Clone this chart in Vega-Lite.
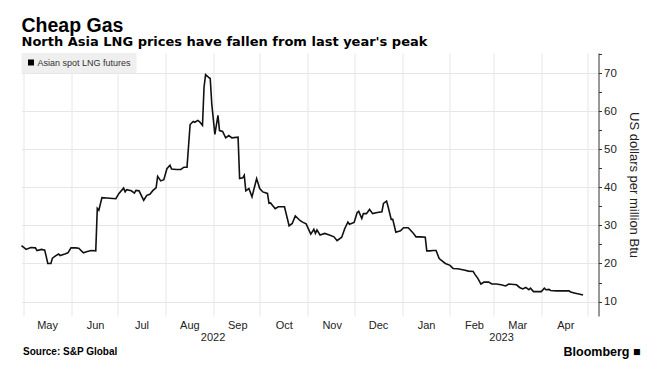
{
  "$schema": "https://vega.github.io/schema/vega-lite/v6.json",
  "width": 577,
  "height": 263,
  "autosize": {"type": "none"},
  "padding": {"left": 21.5, "top": 53, "right": 63.5, "bottom": 69},
  "background": "white",
  "title": {
    "text": "Cheap Gas",
    "subtitle": "North Asia LNG prices have fallen from last year's peak",
    "anchor": "start",
    "frame": "group",
    "font": "Liberation Sans",
    "fontSize": 19.5,
    "fontWeight": "bold",
    "color": "#000000",
    "subtitleFont": "DejaVu Sans",
    "subtitleFontSize": 13,
    "subtitleFontWeight": "bold",
    "subtitleColor": "#000000",
    "subtitlePadding": 0,
    "offset": 3
  },
  "data": {
    "values": [
      {"date": "2022-04-30", "price": 24.7},
      {"date": "2022-05-03", "price": 23.7},
      {"date": "2022-05-06", "price": 24.2},
      {"date": "2022-05-09", "price": 24.1},
      {"date": "2022-05-10", "price": 23.4},
      {"date": "2022-05-13", "price": 23.7},
      {"date": "2022-05-15", "price": 23.5},
      {"date": "2022-05-16", "price": 21.8},
      {"date": "2022-05-17", "price": 20.0},
      {"date": "2022-05-19", "price": 20.0},
      {"date": "2022-05-20", "price": 21.4},
      {"date": "2022-05-22", "price": 22.0},
      {"date": "2022-05-24", "price": 22.5},
      {"date": "2022-05-25", "price": 22.1},
      {"date": "2022-05-28", "price": 22.5},
      {"date": "2022-05-30", "price": 22.8},
      {"date": "2022-06-01", "price": 24.1},
      {"date": "2022-06-04", "price": 24.1},
      {"date": "2022-06-06", "price": 24.0},
      {"date": "2022-06-09", "price": 22.8},
      {"date": "2022-06-11", "price": 23.1},
      {"date": "2022-06-14", "price": 23.4},
      {"date": "2022-06-17", "price": 23.3},
      {"date": "2022-06-18", "price": 34.5},
      {"date": "2022-06-19", "price": 34.0},
      {"date": "2022-06-21", "price": 37.3},
      {"date": "2022-06-24", "price": 37.2},
      {"date": "2022-06-30", "price": 37.0},
      {"date": "2022-07-02", "price": 38.4},
      {"date": "2022-07-05", "price": 39.8},
      {"date": "2022-07-06", "price": 38.8},
      {"date": "2022-07-07", "price": 39.4},
      {"date": "2022-07-10", "price": 39.1},
      {"date": "2022-07-12", "price": 38.5},
      {"date": "2022-07-13", "price": 39.2},
      {"date": "2022-07-15", "price": 39.1},
      {"date": "2022-07-18", "price": 36.6},
      {"date": "2022-07-20", "price": 37.9},
      {"date": "2022-07-22", "price": 38.2},
      {"date": "2022-07-24", "price": 39.2},
      {"date": "2022-07-26", "price": 39.9},
      {"date": "2022-07-27", "price": 42.9},
      {"date": "2022-07-29", "price": 41.7},
      {"date": "2022-07-31", "price": 42.0},
      {"date": "2022-08-02", "price": 44.9},
      {"date": "2022-08-04", "price": 45.8},
      {"date": "2022-08-05", "price": 44.8},
      {"date": "2022-08-08", "price": 44.7},
      {"date": "2022-08-11", "price": 44.7},
      {"date": "2022-08-13", "price": 45.3},
      {"date": "2022-08-15", "price": 45.3},
      {"date": "2022-08-17", "price": 56.5},
      {"date": "2022-08-19", "price": 57.3},
      {"date": "2022-08-20", "price": 57.1},
      {"date": "2022-08-22", "price": 57.6},
      {"date": "2022-08-23", "price": 57.3},
      {"date": "2022-08-25", "price": 56.3},
      {"date": "2022-08-26", "price": 66.3},
      {"date": "2022-08-27", "price": 69.6},
      {"date": "2022-08-29", "price": 68.9},
      {"date": "2022-08-30", "price": 68.6},
      {"date": "2022-08-31", "price": 61.9},
      {"date": "2022-09-02", "price": 53.9},
      {"date": "2022-09-04", "price": 58.9},
      {"date": "2022-09-05", "price": 54.9},
      {"date": "2022-09-07", "price": 54.7},
      {"date": "2022-09-09", "price": 53.0},
      {"date": "2022-09-11", "price": 53.6},
      {"date": "2022-09-13", "price": 53.0},
      {"date": "2022-09-17", "price": 53.2},
      {"date": "2022-09-18", "price": 42.3},
      {"date": "2022-09-20", "price": 42.5},
      {"date": "2022-09-21", "price": 43.2},
      {"date": "2022-09-22", "price": 39.1},
      {"date": "2022-09-24", "price": 39.7},
      {"date": "2022-09-26", "price": 37.5},
      {"date": "2022-09-29", "price": 42.3},
      {"date": "2022-10-01", "price": 39.7},
      {"date": "2022-10-03", "price": 38.8},
      {"date": "2022-10-06", "price": 38.4},
      {"date": "2022-10-07", "price": 35.8},
      {"date": "2022-10-08", "price": 35.9},
      {"date": "2022-10-11", "price": 34.4},
      {"date": "2022-10-13", "price": 34.9},
      {"date": "2022-10-17", "price": 34.9},
      {"date": "2022-10-20", "price": 29.9},
      {"date": "2022-10-22", "price": 30.5},
      {"date": "2022-10-24", "price": 32.5},
      {"date": "2022-10-27", "price": 31.3},
      {"date": "2022-10-29", "price": 30.8},
      {"date": "2022-10-31", "price": 30.4},
      {"date": "2022-11-03", "price": 27.7},
      {"date": "2022-11-05", "price": 29.0},
      {"date": "2022-11-06", "price": 27.9},
      {"date": "2022-11-07", "price": 28.8},
      {"date": "2022-11-09", "price": 27.5},
      {"date": "2022-11-12", "price": 27.9},
      {"date": "2022-11-15", "price": 27.5},
      {"date": "2022-11-18", "price": 27.0},
      {"date": "2022-11-20", "price": 26.0},
      {"date": "2022-11-23", "price": 26.9},
      {"date": "2022-11-25", "price": 29.2},
      {"date": "2022-11-27", "price": 30.9},
      {"date": "2022-11-28", "price": 30.3},
      {"date": "2022-12-01", "price": 30.8},
      {"date": "2022-12-03", "price": 33.4},
      {"date": "2022-12-04", "price": 33.7},
      {"date": "2022-12-06", "price": 31.8},
      {"date": "2022-12-07", "price": 33.1},
      {"date": "2022-12-09", "price": 33.1},
      {"date": "2022-12-11", "price": 34.2},
      {"date": "2022-12-13", "price": 33.1},
      {"date": "2022-12-16", "price": 33.4},
      {"date": "2022-12-19", "price": 33.6},
      {"date": "2022-12-20", "price": 35.8},
      {"date": "2022-12-22", "price": 36.4},
      {"date": "2022-12-23", "price": 34.9},
      {"date": "2022-12-25", "price": 31.6},
      {"date": "2022-12-26", "price": 31.6},
      {"date": "2022-12-28", "price": 28.2},
      {"date": "2022-12-31", "price": 28.6},
      {"date": "2023-01-02", "price": 29.4},
      {"date": "2023-01-05", "price": 29.4},
      {"date": "2023-01-08", "price": 28.1},
      {"date": "2023-01-10", "price": 27.0},
      {"date": "2023-01-13", "price": 27.0},
      {"date": "2023-01-16", "price": 26.9},
      {"date": "2023-01-17", "price": 23.3},
      {"date": "2023-01-19", "price": 23.3},
      {"date": "2023-01-21", "price": 23.4},
      {"date": "2023-01-23", "price": 23.4},
      {"date": "2023-01-25", "price": 21.3},
      {"date": "2023-01-29", "price": 20.0},
      {"date": "2023-02-01", "price": 19.5},
      {"date": "2023-02-03", "price": 18.7},
      {"date": "2023-02-06", "price": 18.6},
      {"date": "2023-02-10", "price": 18.3},
      {"date": "2023-02-13", "price": 18.0},
      {"date": "2023-02-16", "price": 17.9},
      {"date": "2023-02-17", "price": 17.2},
      {"date": "2023-02-19", "price": 16.1},
      {"date": "2023-02-21", "price": 14.6},
      {"date": "2023-02-23", "price": 15.1},
      {"date": "2023-02-26", "price": 15.1},
      {"date": "2023-02-28", "price": 14.6},
      {"date": "2023-03-03", "price": 14.6},
      {"date": "2023-03-06", "price": 14.4},
      {"date": "2023-03-09", "price": 14.1},
      {"date": "2023-03-11", "price": 14.6},
      {"date": "2023-03-16", "price": 14.4},
      {"date": "2023-03-18", "price": 13.7},
      {"date": "2023-03-20", "price": 13.3},
      {"date": "2023-03-22", "price": 13.7},
      {"date": "2023-03-24", "price": 13.1},
      {"date": "2023-03-25", "price": 13.5},
      {"date": "2023-03-27", "price": 12.6},
      {"date": "2023-03-29", "price": 12.6},
      {"date": "2023-04-01", "price": 12.6},
      {"date": "2023-04-03", "price": 13.5},
      {"date": "2023-04-04", "price": 13.1},
      {"date": "2023-04-06", "price": 13.2},
      {"date": "2023-04-07", "price": 12.9},
      {"date": "2023-04-11", "price": 12.8},
      {"date": "2023-04-15", "price": 12.8},
      {"date": "2023-04-19", "price": 12.8},
      {"date": "2023-04-20", "price": 12.5},
      {"date": "2023-04-23", "price": 12.2},
      {"date": "2023-04-26", "price": 11.9},
      {"date": "2023-04-28", "price": 11.7}
    ]
  },
  "layer": [
    {
      "mark": {"type": "line", "strokeWidth": 1.6, "interpolate": "linear"},
      "encoding": {
        "x": {
          "field": "date",
          "type": "temporal",
          "scale": {
            "type": "utc",
            "domain": [
              {"year": 2022, "month": 4, "date": 30, "utc": true},
              {"year": 2023, "month": 5, "date": 8, "utc": true}
            ]
          },
          "axis": {
            "orient": "bottom",
            "values": [
              {"year": 2022, "month": 5, "date": 1, "utc": true},
              {"year": 2022, "month": 6, "date": 1, "utc": true},
              {"year": 2022, "month": 7, "date": 1, "utc": true},
              {"year": 2022, "month": 8, "date": 1, "utc": true},
              {"year": 2022, "month": 9, "date": 1, "utc": true},
              {"year": 2022, "month": 10, "date": 1, "utc": true},
              {"year": 2022, "month": 11, "date": 1, "utc": true},
              {"year": 2022, "month": 12, "date": 1, "utc": true},
              {"year": 2023, "month": 1, "date": 1, "utc": true},
              {"year": 2023, "month": 2, "date": 1, "utc": true},
              {"year": 2023, "month": 3, "date": 1, "utc": true},
              {"year": 2023, "month": 4, "date": 1, "utc": true},
              {"year": 2023, "month": 5, "date": 1, "utc": true}
            ],
            "grid": true,
            "gridColor": "#e6e6e6",
            "gridWidth": 1,
            "ticks": false,
            "tickSize": 0,
            "domain": false,
            "labelExpr": "utcyear(datum.value) == 2023 && utcmonth(datum.value) == 4 ? '' : utcFormat(datum.value, '%b')",
            "labelOffset": 24,
            "labelPadding": 3,
            "labelBaseline": "top",
            "labelAlign": "center",
            "labelFont": "Liberation Sans",
            "labelFontSize": 11,
            "labelColor": "#222222",
            "labelFlush": false,
            "labelOverlap": false,
            "labelBound": false,
            "title": "Source: S&P Global",
            "titleX": 1,
            "titleY": 38,
            "titleAlign": "left",
            "titleAnchor": "start",
            "titleBaseline": "alphabetic",
            "titleAngle": 0,
            "titleFont": "Liberation Sans",
            "titleFontSize": 10,
            "titleFontWeight": "bold",
            "titleColor": "#000000"
          }
        },
        "y": {
          "field": "price",
          "type": "quantitative",
          "scale": {"domain": [6.2, 75.3], "nice": false, "zero": false},
          "axis": {
            "orient": "right",
            "values": [10, 15, 20, 25, 30, 35, 40, 45, 50, 55, 60, 65, 70, 75],
            "labelExpr": "datum.value % 10 == 0 ? datum.label : ''",
            "grid": true,
            "gridColor": {"condition": {"test": "datum.value % 10 == 0", "value": "#e6e6e6"}, "value": "transparent"},
            "domain": true,
            "domainColor": "#333333",
            "tickColor": "#333333",
            "tickSize": 3,
            "labelPadding": 2,
            "labelFont": "Liberation Sans",
            "labelFontSize": 11.5,
            "labelColor": "#222222",
            "title": "US dollars per million Btu",
            "titleFont": "Liberation Sans",
            "titleFontSize": 13,
            "titleFontWeight": "normal",
            "titleColor": "#222222",
            "titlePadding": 10
          }
        },
        "color": {
          "datum": "Asian spot LNG futures",
          "scale": {"range": ["#111111"]},
          "legend": {
            "orient": "top-left",
            "offset": 0,
            "title": null,
            "fillColor": "#efefef",
            "padding": 5,
            "cornerRadius": 0,
            "symbolType": "square",
            "symbolSize": 36,
            "symbolFillColor": "#000000",
            "symbolStrokeColor": "#000000",
            "symbolStrokeWidth": 0,
            "labelFont": "Liberation Sans",
            "labelFontSize": 9,
            "labelColor": "#333333",
            "labelOffset": 2
          }
        }
      }
    },
    {
      "mark": {"type": "point", "opacity": 0},
      "encoding": {
        "x": {
          "field": "date",
          "type": "temporal",
          "scale": {
            "type": "utc",
            "domain": [
              {"year": 2022, "month": 4, "date": 30, "utc": true},
              {"year": 2023, "month": 5, "date": 8, "utc": true}
            ]
          },
          "axis": {
            "orient": "bottom",
            "values": [
              {"year": 2022, "month": 8, "date": 31, "hours": 12, "utc": true},
              {"year": 2023, "month": 3, "date": 6, "utc": true}
            ],
            "labelExpr": "utcFormat(datum.value, '%Y')",
            "grid": false,
            "ticks": false,
            "tickSize": 0,
            "domain": false,
            "labelPadding": 15,
            "labelBaseline": "top",
            "labelAlign": "center",
            "labelFont": "Liberation Sans",
            "labelFontSize": 11,
            "labelColor": "#222222",
            "labelFlush": false,
            "labelOverlap": false,
            "labelBound": false,
            "title": "Bloomberg ■",
            "titleX": 618.5,
            "titleY": 39,
            "titleAlign": "right",
            "titleAnchor": "end",
            "titleBaseline": "alphabetic",
            "titleAngle": 0,
            "titleFont": "Liberation Sans",
            "titleFontSize": 12.5,
            "titleFontWeight": "bold",
            "titleColor": "#000000"
          }
        }
      }
    }
  ],
  "resolve": {"axis": {"x": "independent"}},
  "config": {"view": {"stroke": null}}
}
